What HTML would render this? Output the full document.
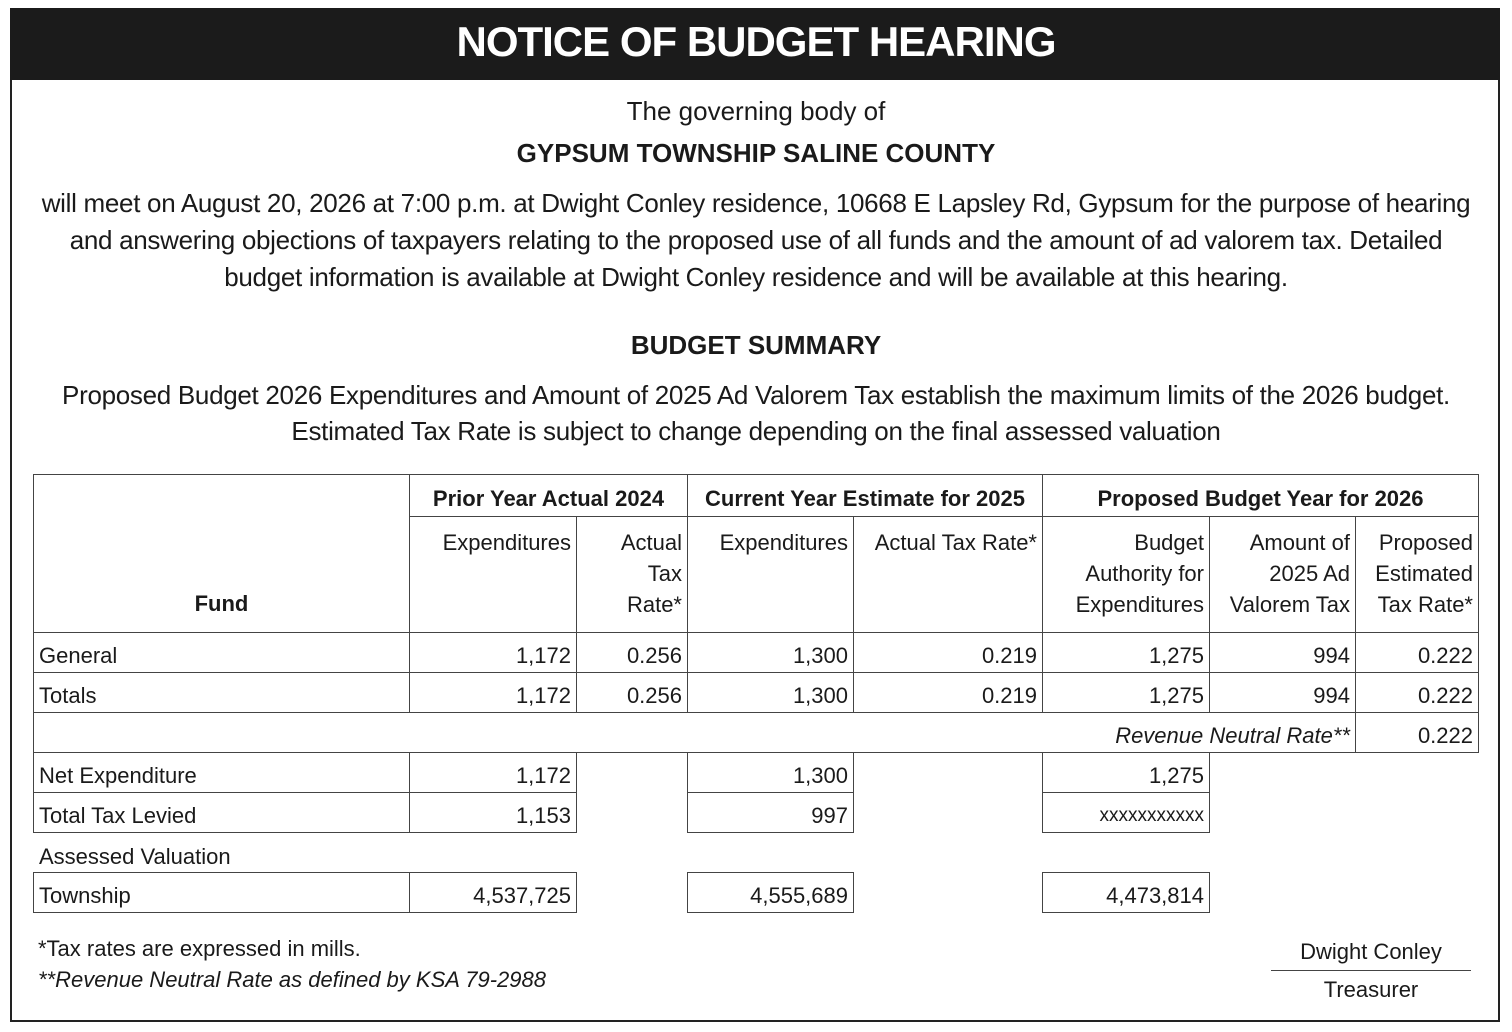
<!DOCTYPE html>
<html><head><meta charset="utf-8"><style>
body{margin:0;width:1512px;height:1032px;background:#fff;font-family:"Liberation Sans",sans-serif;color:#1a1a1a;position:relative;overflow:hidden}
.a{position:absolute;white-space:nowrap}
.ctr{left:0;width:1512px;text-align:center}
.c{position:absolute;box-sizing:border-box;border:1px solid #444;font-size:22px;padding:0 5px;white-space:nowrap}
.r{text-align:right}
.n{line-height:46px}
.b{font-weight:bold}
</style></head><body>
<div class="a" style="left:10px;top:8px;width:1486px;height:1010px;border:2px solid #222"></div>
<div class="a" style="left:10px;top:8px;width:1490px;height:72px;background:#1b1b1b"></div>
<div class="a ctr b" style="top:18px;font-size:42px;color:#fff;letter-spacing:-1px">NOTICE OF BUDGET HEARING</div>
<div class="a ctr" style="top:96px;font-size:26px">The governing body of</div>
<div class="a ctr b" style="top:138px;font-size:26px">GYPSUM TOWNSHIP SALINE COUNTY</div>
<div class="a ctr" style="top:185px;font-size:26px;line-height:37px;letter-spacing:-0.3px">will meet on August 20, 2026 at 7:00 p.m. at Dwight Conley residence, 10668 E Lapsley Rd, Gypsum for the purpose of hearing<br>and answering objections of taxpayers relating to the proposed use of all funds and the amount of ad valorem tax. Detailed<br>budget information is available at Dwight Conley residence and will be available at this hearing.</div>
<div class="a ctr b" style="top:330px;font-size:26px">BUDGET SUMMARY</div>
<div class="a ctr" style="top:377px;font-size:26px;line-height:36px;letter-spacing:-0.3px">Proposed Budget 2026 Expenditures and Amount of 2025 Ad Valorem Tax establish the maximum limits of the 2026 budget.<br>Estimated Tax Rate is subject to change depending on the final assessed valuation</div>

<div class="c b" style="left:33px;top:474px;width:377px;height:159px;text-align:center;padding-top:116px">Fund</div>
<div class="c b" style="left:409px;top:474px;width:279px;height:43px;text-align:center;line-height:48px">Prior Year Actual 2024</div>
<div class="c b" style="left:687px;top:474px;width:356px;height:43px;text-align:center;line-height:48px">Current Year Estimate for 2025</div>
<div class="c b" style="left:1042px;top:474px;width:437px;height:43px;text-align:center;line-height:48px">Proposed Budget Year for 2026</div>
<div class="c r" style="left:409px;top:516px;width:168px;height:117px;line-height:31px;padding-top:10px">Expenditures</div>
<div class="c r" style="left:576px;top:516px;width:112px;height:117px;line-height:31px;padding-top:10px">Actual<br>Tax<br>Rate*</div>
<div class="c r" style="left:687px;top:516px;width:167px;height:117px;line-height:31px;padding-top:10px">Expenditures</div>
<div class="c r" style="left:853px;top:516px;width:190px;height:117px;line-height:31px;padding-top:10px">Actual Tax Rate*</div>
<div class="c r" style="left:1042px;top:516px;width:168px;height:117px;line-height:31px;padding-top:10px">Budget<br>Authority for<br>Expenditures</div>
<div class="c r" style="left:1209px;top:516px;width:147px;height:117px;line-height:31px;padding-top:10px">Amount of<br>2025 Ad<br>Valorem Tax</div>
<div class="c r" style="left:1355px;top:516px;width:124px;height:117px;line-height:31px;padding-top:10px">Proposed<br>Estimated<br>Tax Rate*</div>

<div class="c n" style="left:33px;top:632px;width:377px;height:41px">General</div>
<div class="c n r" style="left:409px;top:632px;width:168px;height:41px">1,172</div>
<div class="c n r" style="left:576px;top:632px;width:112px;height:41px">0.256</div>
<div class="c n r" style="left:687px;top:632px;width:167px;height:41px">1,300</div>
<div class="c n r" style="left:853px;top:632px;width:190px;height:41px">0.219</div>
<div class="c n r" style="left:1042px;top:632px;width:168px;height:41px">1,275</div>
<div class="c n r" style="left:1209px;top:632px;width:147px;height:41px">994</div>
<div class="c n r" style="left:1355px;top:632px;width:124px;height:41px">0.222</div>
<div class="c n" style="left:33px;top:672px;width:377px;height:41px">Totals</div>
<div class="c n r" style="left:409px;top:672px;width:168px;height:41px">1,172</div>
<div class="c n r" style="left:576px;top:672px;width:112px;height:41px">0.256</div>
<div class="c n r" style="left:687px;top:672px;width:167px;height:41px">1,300</div>
<div class="c n r" style="left:853px;top:672px;width:190px;height:41px">0.219</div>
<div class="c n r" style="left:1042px;top:672px;width:168px;height:41px">1,275</div>
<div class="c n r" style="left:1209px;top:672px;width:147px;height:41px">994</div>
<div class="c n r" style="left:1355px;top:672px;width:124px;height:41px">0.222</div>
<div class="c n r" style="left:33px;top:712px;width:1323px;height:41px;font-style:italic">Revenue Neutral Rate**</div>
<div class="c n r" style="left:1355px;top:712px;width:124px;height:41px">0.222</div>
<div class="c n" style="left:33px;top:752px;width:377px;height:41px">Net Expenditure</div>
<div class="c n r" style="left:409px;top:752px;width:168px;height:41px">1,172</div>
<div class="c n r" style="left:687px;top:752px;width:167px;height:41px">1,300</div>
<div class="c n r" style="left:1042px;top:752px;width:168px;height:41px">1,275</div>
<div class="c n" style="left:33px;top:792px;width:377px;height:41px">Total Tax Levied</div>
<div class="c n r" style="left:409px;top:792px;width:168px;height:41px">1,153</div>
<div class="c n r" style="left:687px;top:792px;width:167px;height:41px">997</div>
<div class="c n r" style="left:1042px;top:792px;width:168px;height:41px;font-size:19px">xxxxxxxxxxx</div>
<div class="a" style="left:39px;top:844px;font-size:22px">Assessed Valuation</div>
<div class="c n" style="left:33px;top:872px;width:377px;height:41px">Township</div>
<div class="c n r" style="left:409px;top:872px;width:168px;height:41px">4,537,725</div>
<div class="c n r" style="left:687px;top:872px;width:167px;height:41px">4,555,689</div>
<div class="c n r" style="left:1042px;top:872px;width:168px;height:41px">4,473,814</div>

<div class="a" style="left:38px;top:936px;font-size:22px">*Tax rates are expressed in mills.</div>
<div class="a" style="left:38px;top:967px;font-size:22px;font-style:italic">**Revenue Neutral Rate as defined by KSA 79-2988</div>
<div class="a" style="left:1271px;width:200px;text-align:center;top:939px;font-size:22px">Dwight Conley</div>
<div class="a" style="left:1271px;top:970px;width:200px;border-top:1px solid #444"></div>
<div class="a" style="left:1271px;width:200px;text-align:center;top:977px;font-size:22px">Treasurer</div>
</body></html>
